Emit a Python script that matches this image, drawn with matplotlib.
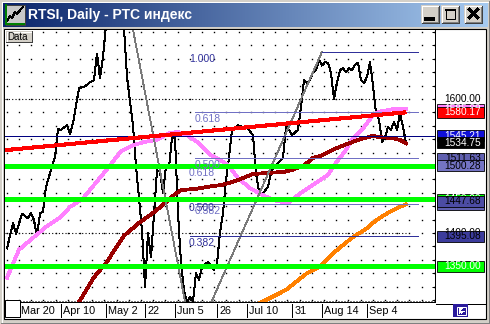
import numpy as np
import matplotlib
matplotlib.use("Agg")
import matplotlib.pyplot as plt
from matplotlib.patches import Rectangle
from matplotlib.colors import LinearSegmentedColormap
from matplotlib.transforms import blended_transform_factory, ScaledTranslation

plt.rcParams['font.family'] = ['Liberation Sans', 'DejaVu Sans']
plt.rcParams['lines.antialiased'] = False

# ---------------- data ----------------
title = "RTSI, Daily - РТС индекс"
tick_pos = [5, 19, 34, 47, 57, 71, 81, 96, 106, 121]
tick_labels = ["Mar 20", "Apr 10", "May 2", "22", "Jun 5", "26", "Jul 10", "31", "Aug 14", "Sep 4"]

close_bars = [1, 3, 4, 6, 8, 9, 10, 11, 12, 13, 14, 15, 17, 18, 19, 21, 22, 23, 25, 27, 29, 30,
              31, 32, 33, 34, 35, 36, 37, 38, 39, 40, 41, 43, 44, 46, 47, 48, 49, 50, 51, 52,
              53, 54, 55, 56, 57, 58, 59, 60, 61, 62, 63, 64, 65, 66, 68, 69, 70, 71, 72, 73,
              74, 75, 76, 78, 80, 81, 83, 84, 85, 86, 88, 89, 90, 93, 94, 95, 96, 98, 99, 100,
              101, 102, 103, 104, 105, 106, 107, 108, 109, 110, 111, 112, 113, 114, 115, 116,
              117, 118, 119, 120, 121, 122, 123, 124, 125, 126, 127, 128, 129, 130, 131, 132,
              133, 134]
close_vals = [1377, 1415, 1399, 1429, 1422, 1430, 1419, 1395, 1429, 1432, 1469, 1484, 1514, 1555,
              1554, 1561, 1548, 1564, 1616, 1619, 1626, 1628, 1668, 1631, 1663, 1710, 1745, 1765,
              1740, 1770, 1750, 1705, 1633, 1560, 1500, 1404, 1319, 1400, 1364, 1427, 1494, 1491,
              1460, 1499, 1497, 1543, 1542, 1430, 1355, 1315, 1296, 1305, 1298, 1340, 1330, 1349,
              1357, 1352, 1345, 1355, 1400, 1430, 1479, 1513, 1554, 1561, 1557, 1558, 1546, 1490,
              1461, 1457, 1469, 1490, 1499, 1512, 1558, 1554, 1546, 1554, 1588, 1628, 1624, 1628,
              1640, 1643, 1658, 1650, 1655, 1654, 1639, 1600, 1625, 1643, 1646, 1640, 1646, 1643,
              1651, 1654, 1628, 1624, 1633, 1655, 1620, 1579, 1569, 1536, 1543, 1558, 1554, 1566,
              1554, 1579, 1558, 1534.75]

pink_bars = [1, 5, 10, 14, 19, 22, 26, 31, 35, 39, 43, 47, 51, 55, 58, 61, 65, 69, 72, 75, 78,
             82, 86, 90, 93, 95, 99, 103, 108, 110, 114, 116, 120, 123, 125, 130, 134]
pink_vals = [1333, 1375, 1394, 1409, 1424, 1439, 1450, 1477, 1499, 1522, 1531, 1536, 1539, 1549,
             1551, 1546, 1534, 1516, 1509, 1500, 1482, 1467, 1457, 1449, 1446, 1446, 1460, 1472,
             1487, 1501, 1524, 1539, 1558, 1576, 1581, 1585, 1585]

maroon_bars = [20, 25, 30, 34, 40, 45, 50, 54, 57, 59, 64, 68, 73, 78, 83, 89, 93, 96, 100, 103,
               106, 111, 118, 123, 125, 129, 132, 134]
maroon_vals = [1262, 1297, 1334, 1355, 1396, 1415, 1431, 1446, 1458, 1464, 1466, 1469, 1472, 1479,
               1488, 1490, 1491, 1494, 1501, 1512, 1516, 1527, 1539, 1545, 1543, 1542, 1539, 1534]

orange_bars = [80, 86, 94, 101, 105, 109, 116, 121, 124, 128, 131, 134]
orange_vals = [1283, 1297, 1315, 1340, 1349, 1367, 1393, 1407, 1419, 1430, 1437, 1443]

red_bars = [0, 134]
red_vals = [1523.5, 1580.17]

hline_blue = 1545.21
green_levels = [1500.0, 1450.0, 1350.0]

fib_ratios = [1.000, 0.618, 0.500, 0.382]
fib1_low, fib1_high = 1224.8, 1670.56      # anchors (bar 62 low, bar 106 high)
fib1_low_bar, fib1_high_bar = 62, 106
fib2_high, fib2_low = 1802.06, 1221.21     # anchors (bar 38.8 high, bar 63.6 low)
fib2_high_bar, fib2_low_bar = 38.8, 63.6
fib_end_bar = 138
last_close = 1534.75

# ---------------- figure ----------------
W, H = 490, 324
fig = plt.figure(figsize=(W / 100, H / 100), dpi=100, facecolor='#D4D0C8')

ov = fig.add_axes([0, 0, 1, 1], zorder=0)
ov.axis('off')


def rect(axx, x0, y0, x1, y1, **kw):
    axx.add_patch(Rectangle((x0, y0), x1 - x0, y1 - y0, **kw))


# window frame
ov.plot([1.5, 1.5], [1.5, 322.5], color='white', lw=0.72)
ov.plot([1.5, 488.5], [1.5, 1.5], color='white', lw=0.72)
ov.plot([489.5, 489.5], [0, 324], color='#404040', lw=0.72)
ov.plot([0, 490], [323.5, 323.5], color='#404040', lw=0.72)
ov.plot([488.5, 488.5], [1, 323], color='#808080', lw=0.72)
ov.plot([1, 489], [322.5, 322.5], color='#808080', lw=0.72)

# title bar gradient
cm = LinearSegmentedColormap.from_list('tb', ['#0A246A', '#A6CAF0'])
ov.imshow(np.linspace(0, 1, 256)[None, :], cmap=cm, extent=[3, 487, 27, 3],
          aspect='auto', zorder=1, interpolation='bilinear')
ov.text(28, 15.5, title, color='white', fontsize=10, fontweight='bold',
        va='center', ha='left', zorder=3)

# icon
rect(ov, 5.5, 4.5, 24.5, 24.5, facecolor='#C8C8C8', edgecolor='#404040', lw=0.72, zorder=2)
ov.plot([7, 10, 12, 15, 17, 20, 23], [21, 16, 18, 12, 14, 10, 7], color='black', lw=0.9, zorder=3)
ov.plot([6, 6, 24], [5, 24, 24], color='#008000', lw=1.2, zorder=3)

# buttons
for x0 in [421, 441, 464]:
    rect(ov, x0, 5, x0 + 18, 23, facecolor='#D4D0C8', edgecolor='none', zorder=2)
    ov.plot([x0 + 0.5, x0 + 0.5, x0 + 17.5], [22.5, 5.5, 5.5], color='white', lw=0.72, zorder=3)
    ov.plot([x0 + 0.5, x0 + 17.5, x0 + 17.5], [22.5, 22.5, 5.5], color='#404040', lw=0.72, zorder=3)
    ov.plot([x0 + 1.5, x0 + 16.5, x0 + 16.5], [21.5, 21.5, 6.5], color='#808080', lw=0.72, zorder=3)
ov.plot([426, 433], [19, 19], color='black', lw=1.5, zorder=4)
rect(ov, 446, 9.5, 455, 18.5, facecolor='none', edgecolor='black', lw=0.72, zorder=4)
ov.plot([446, 455], [10, 10], color='black', lw=1.4, zorder=4)
ov.plot([469.5, 477.5], [9.5, 17.5], color='black', lw=1.6, zorder=4)
ov.plot([469.5, 477.5], [17.5, 9.5], color='black', lw=1.6, zorder=4)

# chart panel
rect(ov, 4, 28.5, 485.5, 318.5, facecolor='white', edgecolor='black', lw=0.8, zorder=1)
ov.plot([435.5, 485.5], [303.5, 303.5], color='black', lw=0.72, zorder=2)
rect(ov, 453, 304, 468, 317, facecolor='#2A1A9C', edgecolor='none', zorder=2)
rect(ov, 456.5, 306.5, 465.5, 314.5, facecolor='none', edgecolor='white', lw=0.72, zorder=3)
ov.plot([458.5, 458.5], [308, 313], color='white', lw=0.72, zorder=3)
ov.plot([459.5, 464], [310.5, 310.5], color='white', lw=0.72, zorder=3)
ov.plot([461.5, 459.5, 461.5], [308.5, 310.5, 312.5], color='white', lw=0.72, zorder=3)
ov.set_xlim(0, W)
ov.set_ylim(H, 0)

# ---------------- main chart axes ----------------
ax = fig.add_axes([5 / W, (H - 302) / H, 430 / W, 272 / H], zorder=2)
ax.set_facecolor('white')
ax.set_xlim(1 / 3, 143.67)
ax.set_ylim(1297, 1703)
for s in ['top', 'left']:
    ax.spines[s].set_visible(False)
for s in ['right', 'bottom']:
    ax.spines[s].set_color('black')
    ax.spines[s].set_linewidth(0.72)

ax.yaxis.tick_right()
ax.set_yticks(np.arange(1300, 1701, 20))
ax.tick_params(axis='y', direction='in', length=2, width=0.72, labelright=False, labelleft=False)
ax.set_xticks(tick_pos, tick_labels)
ax.tick_params(axis='x', length=0, pad=3.2, labelsize=7.8)
off = ScaledTranslation(2.5 / 100, 0, fig.dpi_scale_trans)
for lab in ax.get_xticklabels():
    lab.set_horizontalalignment('left')
    lab.set_transform(lab.get_transform() + off)

bx = blended_transform_factory(ax.transData, ax.transAxes)
by = blended_transform_factory(ax.transAxes, ax.transData)
for p in tick_pos:
    ax.plot([p, p], [-0.008, -0.055], transform=bx, clip_on=False, color='black', lw=0.72)
ax.plot([1 / 3, 143.67], [0.005, 0.005], transform=bx, color='black', lw=0.72,
        ls=(0, (1, 2)), zorder=1, antialiased=True)

# grid dots
gx = np.arange(0.9, 143.6, 4.067)
gy = np.arange(1300, 1701, 20)
GX, GY = np.meshgrid(gx, gy)
ax.plot(GX.ravel(), GY.ravel(), linestyle='none', marker='s', markersize=1.0, mew=0,
        color='black', antialiased=True, zorder=1)
ax.hlines([1600, 1400], 1 / 3, 134, colors='black', lw=0.8, linestyles=[(0, (1, 2))],
          zorder=1, antialiased=True)

# price & indicators
ax.plot(close_bars, close_vals, color='black', lw=0.72, zorder=3)
ax.plot(pink_bars, pink_vals, color='#FF80FF', lw=2.0, zorder=4)
ax.plot(maroon_bars, maroon_vals, color='#990000', lw=2.0, zorder=4)
ax.plot(orange_bars, orange_vals, color='#FF8000', lw=2.0, zorder=4)

# objects
navy = '#30309A'
slate = '#7070C4'
ax.plot([fib2_high_bar, fib2_low_bar], [fib2_high, fib2_low], color='#7A7A7A', lw=0.6, zorder=5)
ax.plot([fib1_low_bar, fib1_high_bar], [fib1_low, fib1_high], color='#7A7A7A', lw=0.6, zorder=5)

fib1_colors = [navy, slate, navy, navy]
for r, c in zip(fib_ratios, fib1_colors):
    v = fib1_low + r * (fib1_high - fib1_low)
    xs = fib1_high_bar if r == 1.0 else fib1_low_bar
    ax.hlines(v, xs, fib_end_bar, colors=c, lw=0.72, zorder=5)
    ax.annotate(f"{r:.3f}", xy=(fib1_low_bar - 0.3, v), xytext=(0, -1.5),
                textcoords='offset points', ha='left', va='top', fontsize=7.5, color=c, zorder=6)
for r in fib_ratios[1:]:
    v = fib2_low + r * (fib2_high - fib2_low)
    ax.hlines(v, fib2_low_bar, fib_end_bar, colors=slate, lw=0.72, zorder=5)
    ax.annotate(f"{r:.3f}", xy=(fib2_low_bar, v), xytext=(0, -1.5),
                textcoords='offset points', ha='left', va='top', fontsize=7.5, color=slate, zorder=6)

ax.axhline(hline_blue, color='#000080', lw=0.72, zorder=5)
ax.plot(red_bars, red_vals, color='#FF0000', lw=2.2, zorder=5, solid_capstyle='butt')
for g in green_levels:
    ax.axhline(g, color='#00FF00', lw=2.2, zorder=5)

# right price scale labels
fib1_vals = [fib1_low + r * (fib1_high - fib1_low) for r in fib_ratios]
fib2_vals = [fib2_low + r * (fib2_high - fib2_low) for r in fib_ratios]
labels = [
    (None, 1600.0, 'black'),
    ('#FF80FF', pink_vals[-1], 'white'),
    ('#FF0000', red_vals[-1], 'white'),
    ('#1010D8', hline_blue, 'white'),
    ('#000000', last_close, 'white'),
    ('#6060B0', fib2_vals[2], 'black'),
    ('#7474C4', fib1_vals[1], 'black'),
    ('#00FF00', green_levels[1], 'white'),
    ('#6060B0', fib2_vals[3], 'black'),
    ('#4C4CA4', fib1_vals[2], 'black'),
    (None, 1400.0, 'black'),
    ('#3C3C9C', fib1_vals[3], 'black'),
    ('#00FF00', green_levels[2], 'white'),
]
hh = 11 / 0.67
for k, (fc, v, tc) in enumerate(labels):
    z = 7 + k * 0.01
    if fc is not None:
        ax.add_patch(Rectangle((1.0047, v - hh / 2), 0.1093, hh, transform=by, facecolor=fc,
                               edgecolor='black', lw=0.6, clip_on=False, zorder=z))
    ax.text(1.107, v, f"{v:.2f}", transform=by, ha='right', va='center', fontsize=7.3,
            color=tc, clip_on=False, zorder=z + 0.001)

# top overlay: Data button and corner box
top = fig.add_axes([0, 0, 1, 1], zorder=10)
top.axis('off')
top.patch.set_alpha(0)
rect(top, 6, 31, 32, 42, facecolor='#D4D0C8', edgecolor='none')
top.plot([31.5, 31.5, 6], [31, 41.5, 41.5], color='#404040', lw=0.72)
top.plot([6.5, 6.5, 31], [41, 31.5, 31.5], color='white', lw=0.72)
top.text(7.5, 36.5, "Data", fontsize=7, va='center', ha='left', color='black')
rect(top, 5, 299.5, 19.5, 317, facecolor='white', edgecolor='black', lw=0.72)
top.set_xlim(0, W)
top.set_ylim(H, 0)

fig.savefig('out.png', dpi=100, facecolor=fig.get_facecolor())
